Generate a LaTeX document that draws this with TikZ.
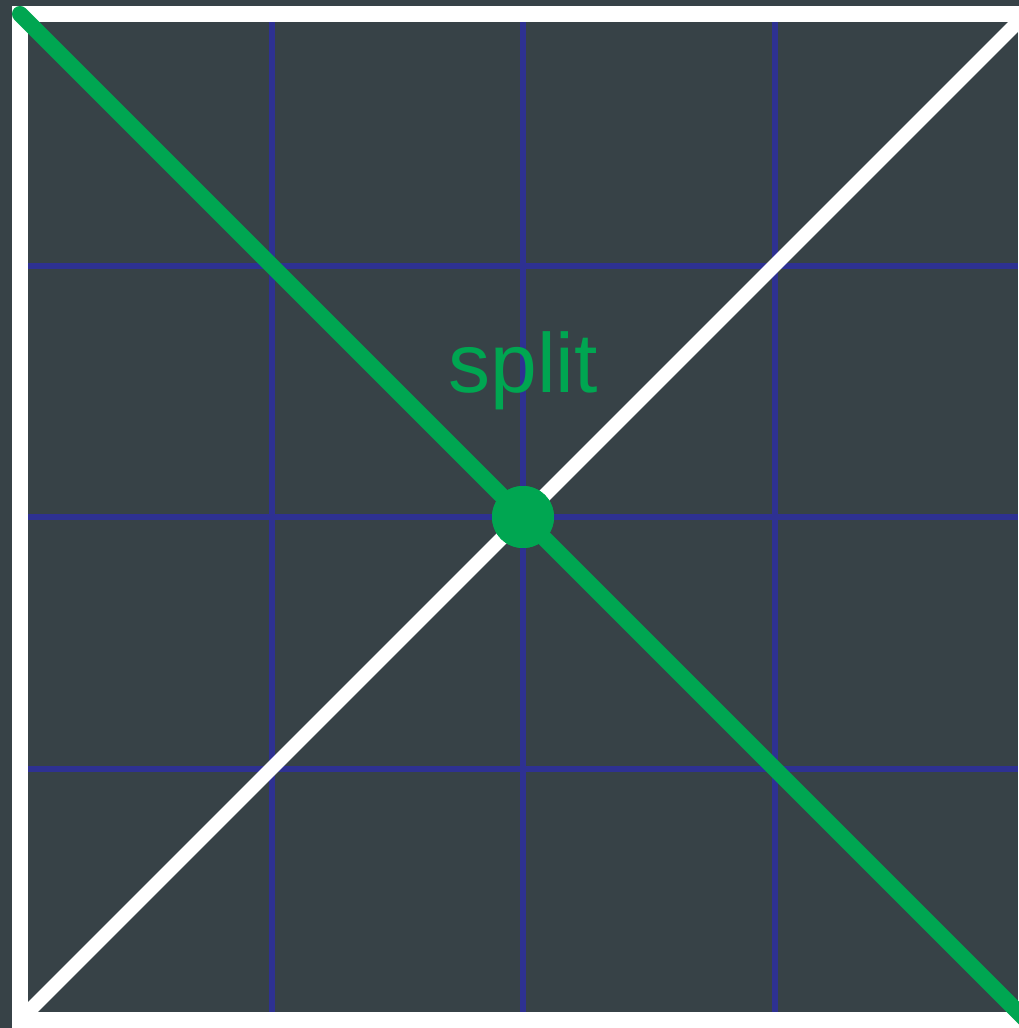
\documentclass[tikz,border=0pt]{standalone}
\usepackage{fontspec}
\setmainfont{Liberation Sans}
\definecolor{bgdark}{RGB}{55,66,71}
\definecolor{gridblue}{RGB}{46,49,146}
\definecolor{splitgreen}{RGB}{0,166,81}
\begin{document}
\begin{tikzpicture}[x=1pt,y=-1pt,
  gridline/.style={draw=gridblue,line width=6pt},
  framewhite/.style={draw=white,line width=16pt},
  diagwhite/.style={draw=white,line width=14pt},
  diaggreen/.style={draw=splitgreen,line width=16pt,line cap=round},
  dotgreen/.style={circle,fill=splitgreen,minimum size=62pt,inner sep=0pt},
  labelgreen/.style={text=splitgreen,font=\fontsize{84}{100}\selectfont,anchor=base,inner sep=0pt}]
\fill[bgdark] (0,0) rectangle (1019,1028);
\useasboundingbox (0,0) rectangle (1019,1028);
\coordinate (tl) at (20,14);
\coordinate (tr) at (1026,14);
\coordinate (bl) at (20,1020);
\coordinate (br) at (1026,1020);
% grid
\foreach \i in {1,2,3}{
  \draw[gridline] ({20+251.5*\i},14) -- ({20+251.5*\i},1020);
  \draw[gridline] (20,{14+251.5*\i}) -- (1026,{14+251.5*\i});
}
% frame
\draw[framewhite] (tl) -- (tr) -- (br) -- (bl) -- cycle;
% diagonals
\draw[diagwhite] (bl) -- (tr);
\node[dotgreen] (split) at (523,517) {};
\draw[diaggreen] (tl) -- (br);
\node[dotgreen] at (split.center) {};
\node[labelgreen] (lbl) at (523,392) {split};
\end{tikzpicture}
\end{document}
